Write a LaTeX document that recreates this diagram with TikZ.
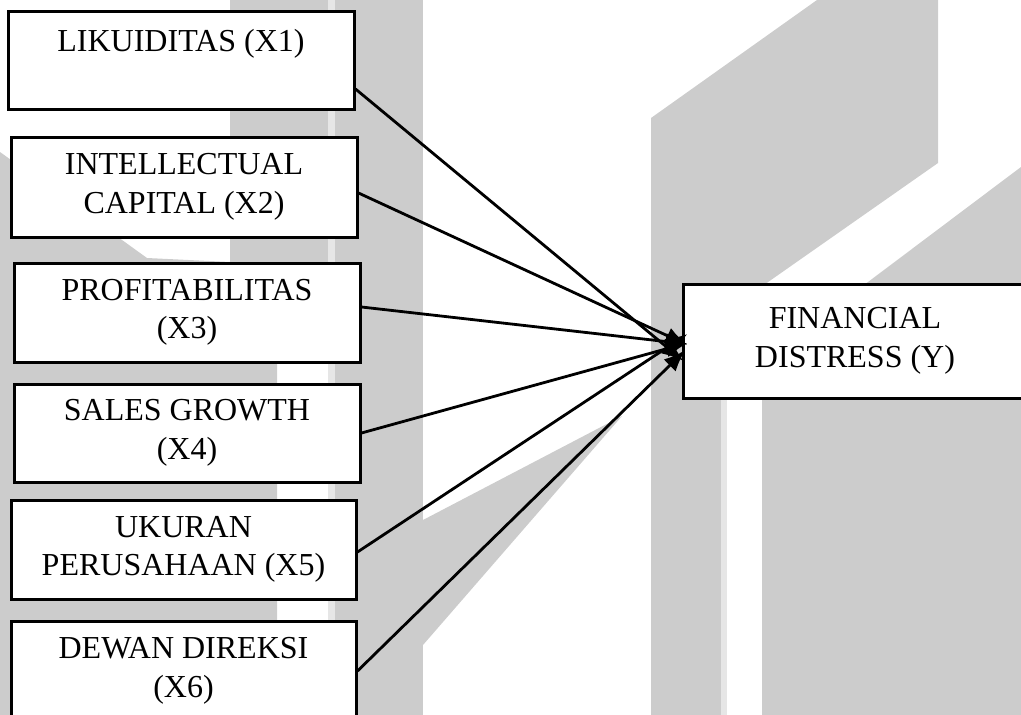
\documentclass[tikz,border=0pt]{standalone}
\usepackage{fontspec}
\setmainfont{Liberation Serif}
\usetikzlibrary{arrows.meta,calc}
\definecolor{wmgray}{RGB}{204,204,204}
\definecolor{wmlight}{RGB}{230,230,230}
\tikzset{
  varbox/.style={draw=black, line width=3pt, fill=white, inner sep=0pt,
    align=center, font=\fontsize{32}{38.5}\selectfont},
  conn/.style={draw=black, line width=2.8pt, -{Latex[length=22pt,width=17pt]}},
  wm/.style={fill=wmgray, draw=none},
  wml/.style={fill=wmlight, draw=none}
}
\begin{document}
\begin{tikzpicture}[x=1pt,y=-1pt]
\useasboundingbox (0,0) rectangle (1021,715);
\begin{scope}
\clip (0,0) rectangle (1021,715);
% watermark
\fill[wm] (0,152) -- (147,258) -- (230,262) -- (230,0) -- (328,0) -- (328,300) -- (277,300) -- (277,715) -- (0,715) -- cycle;
\fill[wml] (328,0) rectangle (335,715);
\fill[wm] (335,0) rectangle (423,715);
\fill[wm] (423,520) -- (622,416) -- (423,645) -- cycle;
\fill[wm] (651,118) -- (817,0) -- (938,0) -- (938,163) -- (721,315) -- (721,715) -- (651,715) -- cycle;
\fill[wml] (721,300) rectangle (727,715);
\fill[wm] (1021,167) -- (868,282) -- (762,360) -- (762,715) -- (1021,715) -- cycle;
% boxes
\node[varbox, minimum width=346, minimum height=98] (b1) at (181,60) {LIKUIDITAS (X1)\\ \mbox{}};
\node[varbox, minimum width=346, minimum height=100] (b2) at (184,187) {INTELLECTUAL\\CAPITAL (X2)};
\node[varbox, minimum width=346, minimum height=99] (b3) at (187,312.5) {PROFITABILITAS\\(X3)};
\node[varbox, minimum width=346, minimum height=98] (b4) at (187,433) {SALES GROWTH\\(X4)};
\node[varbox, minimum width=345, minimum height=99] (b5) at (183.5,549.5) {UKURAN\\PERUSAHAAN (X5)};
\node[varbox, minimum width=345, minimum height=100] (b6) at (183.5,671) {DEWAN DIREKSI\\(X6)};
\node[varbox, minimum width=344, minimum height=114] (fd) at (855,341) {FINANCIAL\\DISTRESS (Y)};
% connectors
\draw[conn] ($(b1.east)+(0,29)$) -- ($(fd.west)+(2,20)$);
\draw[conn] ($(b2.east)+(0,6)$) -- ($(fd.west)+(6,4)$);
\draw[conn] ($(b3.east)+(0,-5.5)$) -- ($(fd.west)+(6,3)$);
\draw[conn] ($(b4.east)+(0,0)$) -- ($(fd.west)+(6,2)$);
\draw[conn] ($(b5.east)+(0,2.5)$) -- ($(fd.west)+(6,-7)$);
\draw[conn] ($(b6.east)+(0,0)$) -- ($(fd.west)+(4,9)$);
\end{scope}
\end{tikzpicture}
\end{document}
